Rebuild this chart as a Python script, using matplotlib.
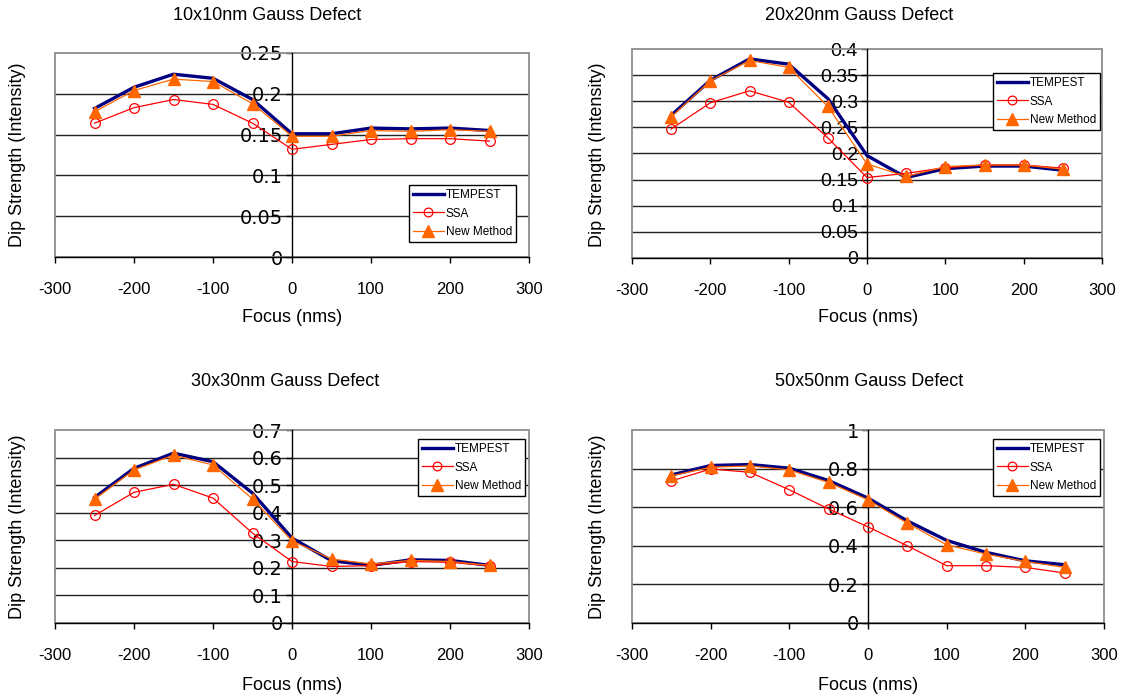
import matplotlib
matplotlib.use("Agg")
import matplotlib.pyplot as plt
from matplotlib.patches import Rectangle
from matplotlib.ticker import FuncFormatter

W, H = 1128, 698

focus = [-250, -200, -150, -100, -50, 0, 50, 100, 150, 200, 250]

# 10x10 nm defect
tempest_10 = [0.182, 0.208, 0.224, 0.219, 0.193, 0.151, 0.151, 0.158, 0.157, 0.158, 0.155]
ssa_10 = [0.164, 0.183, 0.193, 0.187, 0.164, 0.132, 0.138, 0.144, 0.145, 0.145, 0.142]
new_10 = [0.178, 0.204, 0.218, 0.215, 0.188, 0.148, 0.148, 0.155, 0.154, 0.156, 0.154]

# 20x20 nm defect
tempest_20 = [0.273, 0.340, 0.381, 0.371, 0.305, 0.196, 0.154, 0.171, 0.176, 0.176, 0.168]
ssa_20 = [0.247, 0.297, 0.320, 0.298, 0.230, 0.154, 0.162, 0.173, 0.178, 0.178, 0.172]
new_20 = [0.270, 0.339, 0.378, 0.365, 0.290, 0.180, 0.156, 0.175, 0.178, 0.178, 0.170]

# 30x30 nm defect
tempest_30 = [0.455, 0.561, 0.616, 0.585, 0.471, 0.308, 0.226, 0.209, 0.229, 0.227, 0.209]
ssa_30 = [0.390, 0.474, 0.503, 0.453, 0.326, 0.223, 0.205, 0.208, 0.223, 0.220, 0.208]
new_30 = [0.449, 0.555, 0.609, 0.573, 0.450, 0.298, 0.232, 0.214, 0.227, 0.223, 0.209]

# 50x50 nm defect
tempest_50 = [0.767, 0.816, 0.821, 0.802, 0.738, 0.647, 0.529, 0.428, 0.366, 0.322, 0.302]
ssa_50 = [0.736, 0.798, 0.781, 0.690, 0.591, 0.498, 0.400, 0.297, 0.297, 0.288, 0.259]
new_50 = [0.762, 0.807, 0.814, 0.793, 0.728, 0.638, 0.517, 0.405, 0.357, 0.319, 0.288]

titles = ["10x10nm Gauss Defect", "20x20nm Gauss Defect",
          "30x30nm Gauss Defect", "50x50nm Gauss Defect"]
series = [(tempest_10, ssa_10, new_10), (tempest_20, ssa_20, new_20),
          (tempest_30, ssa_30, new_30), (tempest_50, ssa_50, new_50)]
y_max = [0.25, 0.4, 0.7, 1.0]
y_step = [0.05, 0.05, 0.1, 0.2]
x_ticks = [-300, -200, -100, 0, 100, 200, 300]

# plot-area boxes in pixels: left, top, right, bottom
boxes = [(55, 53, 529, 257), (632, 49, 1102, 258),
         (55, 430, 529, 623), (632, 430, 1104, 623)]
legend_at = [(409, 185), (993, 73), (418, 439), (993, 439)]
title_at = [(267, 16), (859, 16), (285, 381), (869, 381)]
xlabel_at = [(292, 318), (868, 318), (292, 685), (868, 685)]
ylabel_at = [(18, 155), (597, 155), (18, 527), (597, 527)]
ytick_font = ["DejaVu Sans", "Liberation Sans", "DejaVu Sans", "DejaVu Sans"]

plt.rcParams["font.family"] = ["Liberation Sans", "DejaVu Sans"]

fig = plt.figure(figsize=(W / 100, H / 100), dpi=100)
fig.patch.set_facecolor("white")


def fx(px):
    return px / W


def fy(py):
    return 1 - py / H


for i in range(4):
    l, t, r, b = boxes[i]
    ax = fig.add_axes([fx(l), fy(b), fx(r - l), (b - t) / H])
    tempest, ssa, new = series[i]

    ax.plot(focus, tempest, color="#000080", lw=2.4, label="TEMPEST", zorder=4)
    ax.plot(focus, ssa, color="#FF0000", lw=0.9, marker="o", ms=7,
            mfc="none", mec="#FF0000", mew=0.9, label="SSA", zorder=5)
    ax.plot(focus, new, color="#FF6600", lw=0.9, marker="^", ms=9,
            mfc="#FF6600", mec="#FF6600", label="New Method", zorder=6)

    ax.set_xlim(-300, 300)
    ax.set_ylim(0, y_max[i])
    n = int(round(y_max[i] / y_step[i]))
    yt = [round(k * y_step[i], 3) for k in range(n + 1)]
    ax.set_yticks(yt)
    ax.set_xticks(x_ticks)
    ax.yaxis.set_major_formatter(FuncFormatter(lambda v, p: f"{v:g}"))
    ax.xaxis.set_major_formatter(FuncFormatter(lambda v, p: f"{v:g}"))

    for v in yt[1:-1]:
        ax.axhline(v, color="#222222", lw=1.0, zorder=1)

    for s in ("top", "right"):
        ax.spines[s].set_visible(False)
    ax.spines["left"].set_position(("data", 0))
    ax.spines["left"].set_color("black")
    ax.spines["left"].set_linewidth(1.0)
    ax.spines["left"].set_zorder(3)
    ax.spines["bottom"].set_color("black")
    ax.spines["bottom"].set_linewidth(1.0)
    ax.spines["bottom"].set_zorder(3)

    ax.add_patch(Rectangle((0, 0), 1, 1, transform=ax.transAxes, fill=False,
                           edgecolor="#8c8c8c", lw=1.3, zorder=2, clip_on=False))

    ax.tick_params(axis="y", direction="out", length=4, width=1, pad=2.5,
                   labelsize=14, color="black")
    ax.tick_params(axis="x", direction="out", length=4, width=1, pad=14,
                   labelsize=12, color="black")
    for lab in ax.get_yticklabels():
        lab.set_fontfamily(ytick_font[i])

    leg = ax.legend(loc="upper left", bbox_to_anchor=(fx(legend_at[i][0]), fy(legend_at[i][1])),
                    bbox_transform=fig.transFigure, borderaxespad=0, fontsize=8.5,
                    frameon=True, fancybox=False, framealpha=1, edgecolor="black",
                    handlelength=2.6, handletextpad=0.15, labelspacing=0.55,
                    borderpad=0.35, numpoints=1, markerscale=0.9)
    leg.get_frame().set_linewidth(1.0)
    leg.set_zorder(10)

    fig.text(fx(title_at[i][0]), fy(title_at[i][1]), titles[i], ha="center",
             va="center", fontsize=13)
    fig.text(fx(xlabel_at[i][0]), fy(xlabel_at[i][1]), "Focus (nms)", ha="center",
             va="center", fontsize=13)
    fig.text(fx(ylabel_at[i][0]), fy(ylabel_at[i][1]), "Dip Strength (Intensity)",
             ha="center", va="center", rotation=90, fontsize=13)

fig.savefig("out.png", dpi=100, facecolor="white")
